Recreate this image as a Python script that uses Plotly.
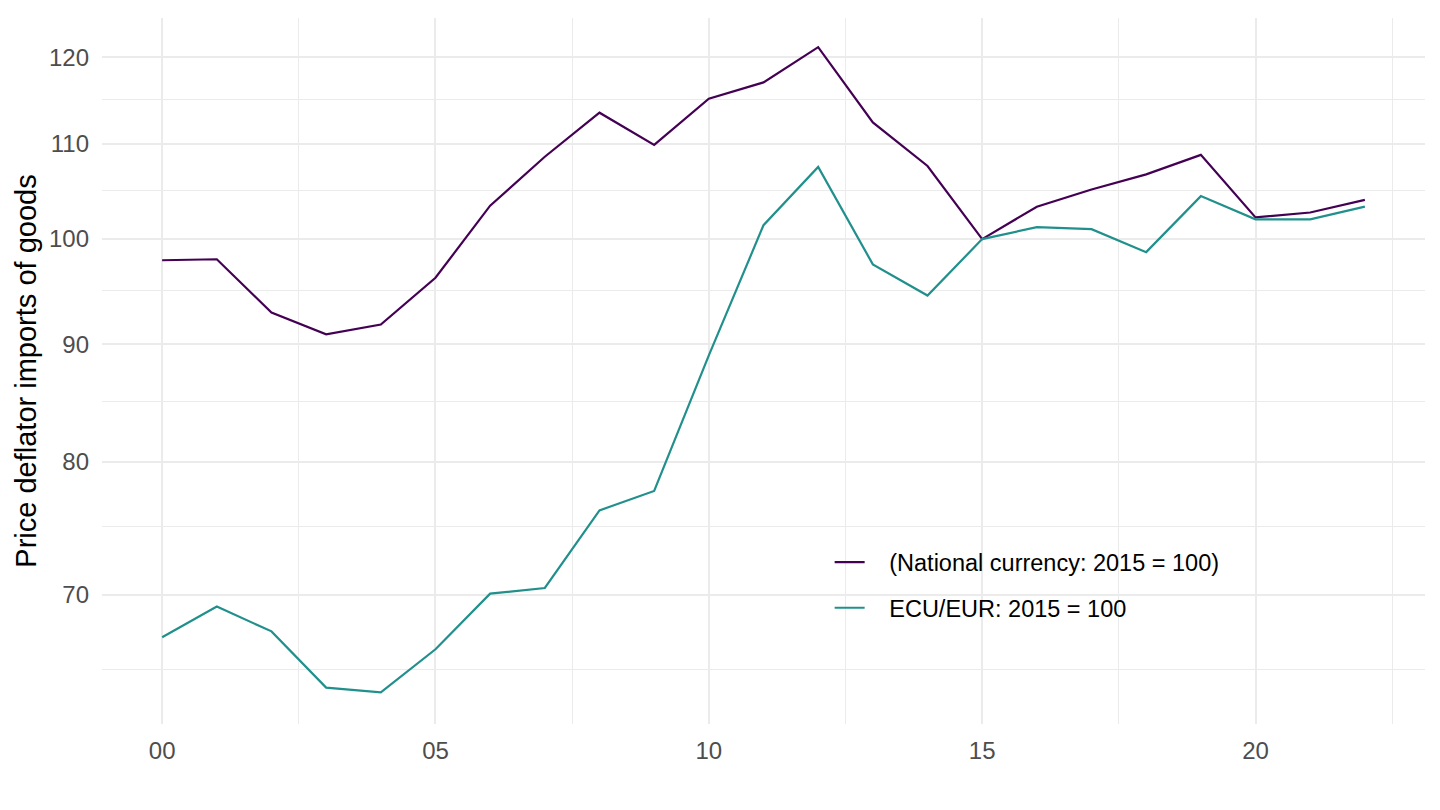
import plotly.graph_objects as go

years = list(range(2000, 2023))
national = [97.9, 98.0, 92.9, 90.9, 91.8, 96.2, 103.4, 108.6, 113.5, 109.9, 115.1, 117.0,
            121.2, 112.4, 107.6, 100.0, 103.3, 105.1, 106.7, 108.8, 102.2, 102.7, 104.0]
ecu_eur = [67.1, 69.2, 67.5, 63.8, 63.5, 66.3, 70.1, 70.5, 76.2, 77.7, 89.0, 101.4,
           107.5, 97.5, 94.5, 100.0, 101.2, 101.0, 98.7, 104.4, 102.0, 102.0, 103.3]
series_names = ["(National currency: 2015 = 100)", "ECU/EUR: 2015 = 100"]
series_colors = ["#440154", "#21908C"]

x_tickvals = [2000, 2005, 2010, 2015, 2020]
x_ticktext = ["00", "05", "10", "15", "20"]
x_minor = [2002.5, 2007.5, 2012.5, 2017.5, 2022.5]
y_tickvals = [70, 80, 90, 100, 110, 120]
y_minor = [65, 75, 85, 95, 105, 115]

fig = go.Figure()
for i, (name, vals) in enumerate(zip(series_names, [national, ecu_eur])):
    fig.add_trace(go.Scatter(x=years, y=vals, mode="lines", name="\u00a0\u00a0\u00a0" + name,
                             legendgroup=f"g{i}",
                             line=dict(color=series_colors[i], width=2.2)))

grid = "#EBEBEB"
fig.update_layout(
    width=1424, height=794,
    margin=dict(l=94, r=7, t=10, b=78),
    plot_bgcolor="white", paper_bgcolor="white",
    font=dict(family="Liberation Sans, Arial, sans-serif", size=24, color="#4D4D4D"),
    showlegend=True,
    legend=dict(x=0.55, y=0.26, xanchor="left", yanchor="top",
                bgcolor="rgba(0,0,0,0)", traceorder="grouped", tracegroupgap=12,
                font=dict(size=23.5, color="black")),
    xaxis=dict(range=[1998.9, 2023.1], tickvals=x_tickvals, ticktext=x_ticktext,
               showgrid=True, gridcolor=grid, gridwidth=2.2, zeroline=False, showline=False,
               ticks="", ticklabelstandoff=10, automargin=False,
               tickfont=dict(size=24, color="#4D4D4D"),
               minor=dict(tickvals=x_minor, showgrid=True, gridcolor=grid, gridwidth=1.1)),
    yaxis=dict(type="log", range=[1.789, 2.0962], tickvals=y_tickvals,
               ticktext=[str(v) for v in y_tickvals],
               showgrid=True, gridcolor=grid, gridwidth=2.2, zeroline=False, showline=False,
               ticks="", ticklabelstandoff=12, automargin=False,
               tickfont=dict(size=24, color="#4D4D4D"),
               title=dict(text="Price deflator imports of goods",
                          font=dict(size=29, color="black"), standoff=3),
               minor=dict(tickvals=y_minor, showgrid=True, gridcolor=grid, gridwidth=1.1)),
)

fig.write_html("out.html")
